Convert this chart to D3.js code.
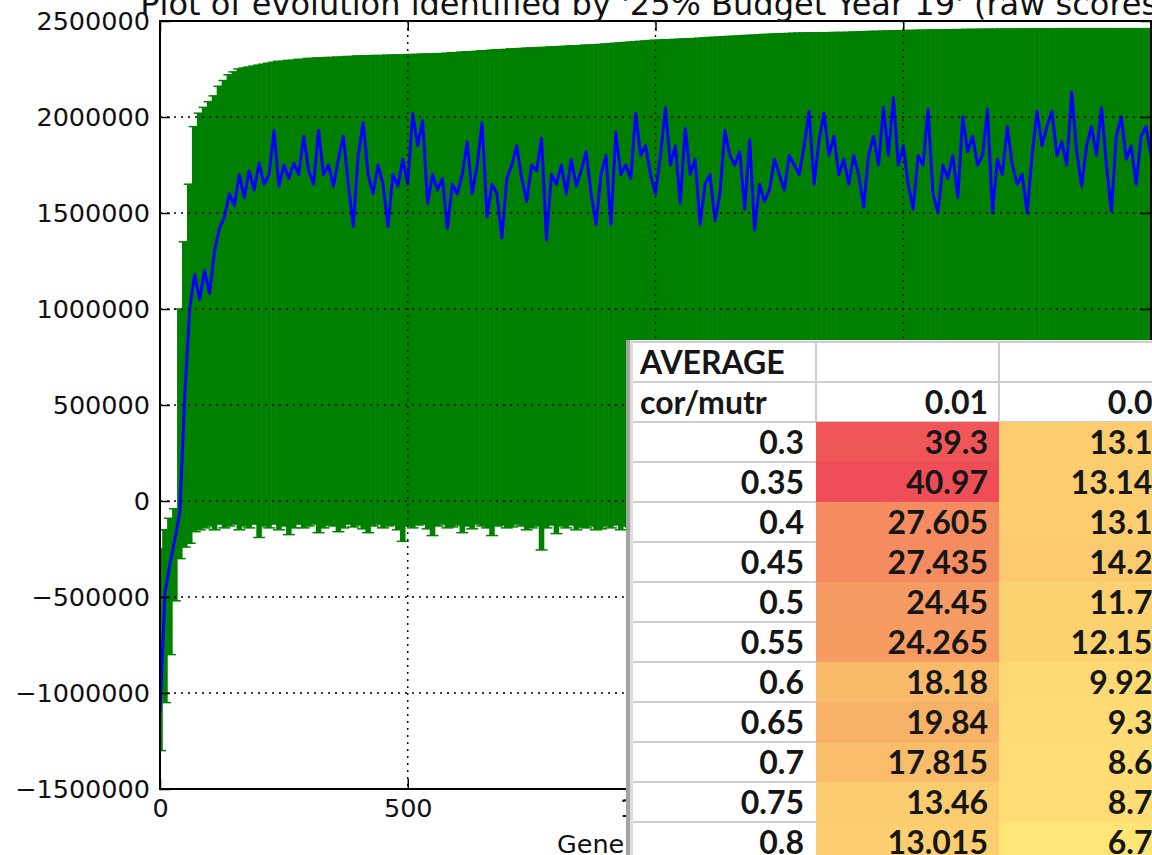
<!DOCTYPE html>
<html>
<head>
<meta charset="utf-8">
<script src="https://cdn.jsdelivr.net/npm/d3@7"></script>
<style>
body { margin: 0; background: #fff; }
svg { display: block; }
</style>
</head>
<body>
<div id="vis"></div>
<script>
// Evolution run, sampled every 10 generations. Scores are in thousands.
const generations = d3.range(0, 2001, 10)

const meanScore = [
    -1100, -480, -330, -200, -60, 550, 1000, 1180, 1050, 1200,
    1080, 1300, 1420, 1480, 1600, 1540, 1700, 1580, 1720, 1620,
    1760, 1650, 1700, 1930, 1640, 1750, 1680, 1760, 1700, 1900,
    1720, 1650, 1930, 1700, 1750, 1640, 1780, 1900, 1650, 1430,
    1800, 1970, 1700, 1600, 1750, 1650, 1430, 1700, 1640, 1780,
    1650, 2020, 1850, 1980, 1550, 1700, 1620, 1680, 1420, 1650,
    1600, 1700, 1870, 1600, 1750, 1970, 1480, 1650, 1600, 1370,
    1680, 1750, 1850, 1680, 1560, 1750, 1720, 1890, 1360, 1700,
    1650, 1750, 1600, 1780, 1640, 1720, 1820, 1600, 1440, 1700,
    1800, 1440, 1920, 1700, 1750, 1680, 2020, 1800, 1850, 1700,
    1600, 1800, 2050, 1750, 1850, 1550, 1940, 1700, 1780, 1440,
    1650, 1700, 1460, 1600, 1930, 1800, 1750, 1820, 1520, 1880,
    1410, 1650, 1560, 1620, 1780, 1700, 1620, 1800, 1750, 1700,
    1850, 2030, 1650, 1880, 2020, 1800, 1900, 1700, 1780, 1650,
    1800, 1700, 1530, 1800, 1900, 1750, 2050, 1800, 2100, 1750,
    1850, 1650, 1520, 1800, 1750, 2040, 1600, 1500, 1750, 1680,
    1800, 1580, 2000, 1820, 1900, 1750, 1800, 2040, 1500, 1780,
    1700, 1950, 1750, 1650, 1700, 1500, 1800, 2030, 1850, 1950,
    2030, 1800, 1870, 1750, 2130, 1820, 1640, 1850, 1950, 1800,
    2050, 1750, 1510, 1900, 2000, 1780, 1850, 1650, 1900, 1950,
    1800
]

const upperScore = [
    -250, -150, -90, -40, 1000, 1350, 1650, 1950, 2020, 2050,
    2080, 2110, 2160, 2190, 2220, 2235, 2250, 2255, 2260, 2265,
    2270, 2275, 2280, 2285, 2290, 2290, 2295, 2295, 2300, 2300,
    2305, 2305, 2308, 2308, 2310, 2310, 2312, 2312, 2315, 2315,
    2318, 2318, 2318, 2320, 2320, 2320, 2322, 2322, 2323, 2323,
    2325, 2325, 2326, 2327, 2328, 2328, 2330, 2330, 2332, 2335,
    2335, 2338, 2340, 2340, 2342, 2345, 2345, 2348, 2350, 2350,
    2352, 2355, 2355, 2357, 2358, 2360, 2360, 2362, 2362, 2365,
    2365, 2367, 2368, 2370, 2370, 2372, 2374, 2375, 2376, 2378,
    2380, 2382, 2384, 2386, 2388, 2390, 2392, 2394, 2396, 2398,
    2400, 2400, 2402, 2402, 2404, 2405, 2406, 2408, 2408, 2410,
    2412, 2414, 2415, 2416, 2418, 2420, 2420, 2422, 2424, 2425,
    2426, 2428, 2430, 2430, 2432, 2433, 2434, 2435, 2436, 2437,
    2437, 2438, 2438, 2438, 2439, 2439, 2440, 2440, 2440, 2441,
    2442, 2443, 2444, 2445, 2446, 2446, 2447, 2448, 2448, 2449,
    2450, 2450, 2451, 2451, 2452, 2452, 2453, 2453, 2453, 2454,
    2455, 2455, 2455, 2456, 2456, 2456, 2457, 2457, 2457, 2457,
    2458, 2458, 2458, 2458, 2458, 2459, 2459, 2459, 2459, 2459,
    2459, 2460, 2460, 2460, 2460, 2460, 2460, 2460, 2460, 2460,
    2460, 2460, 2460, 2460, 2460, 2460, 2460, 2460, 2460, 2460,
    2460
]

const lowerScore = [
    -1300, -1050, -800, -520, -300, -240, -220, -160, -150, -140,
    -130, -150, -120, -140, -130, -120, -150, -130, -140, -120,
    -190, -130, -140, -120, -150, -130, -175, -140, -120, -140,
    -130, -120, -165, -140, -125, -130, -160, -140, -120, -135,
    -125, -145, -165, -130, -120, -140, -130, -125, -150, -210,
    -130, -140, -125, -120, -145, -180, -130, -120, -140, -135,
    -125, -165, -130, -145, -120, -130, -140, -180, -130, -125,
    -140, -135, -120, -130, -150, -140, -130, -255, -140, -125,
    -170, -130, -140, -125, -150, -135, -140, -130, -150, -145,
    -130, -140, -125, -150, -130, -135, -145, -130, -140, -125,
    -135, -125, -150, -130, -140, -120, -145, -130, -160, -125,
    -130, -140, -125, -150, -135, -120, -145, -130, -140, -125,
    -150, -130, -120, -140, -135, -165, -125, -130, -145, -120,
    -140, -130, -125, -150, -135, -140, -120, -130, -155, -125,
    -130, -145, -120, -135, -140, -125, -150, -130, -120, -140,
    -135, -125, -160, -130, -140, -120, -145, -130, -125, -150,
    -130, -140, -125, -135, -120, -150, -130, -140, -125, -135,
    -145, -120, -130, -140, -125, -155, -130, -120, -140, -135,
    -125, -150, -130, -140, -120, -135, -145, -125, -130, -140,
    -120, -150, -130, -135, -125, -140, -130, -145, -120, -135,
    -130
]

const xTicks = [0, 500, 1000, 1500, 2000]
const yTicks = [-1500000, -1000000, -500000, 0, 500000, 1000000, 1500000, 2000000, 2500000]

// Spreadsheet pasted over the plot
const crossoverRates = [0.3, 0.35, 0.4, 0.45, 0.5, 0.55, 0.6, 0.65, 0.7, 0.75, 0.8]
const mutationRates = [0.01, 0.05]
const avgMut001 = [39.3, 40.97, 27.605, 27.435, 24.45, 24.265, 18.18, 19.84, 17.815, 13.46, 13.015]
const avgMut005 = [13.11, 13.145, 13.16, 14.26, 11.75, 12.155, 9.925, 9.39, 8.62, 8.71, 6.71]

const W = 1152, H = 855
const plot = {left: 160, right: 1151, top: 21, bottom: 789}
const font = 'DejaVu Sans'

let svg = d3.select('#vis')
    .append('svg')
    .attr('width', W)
    .attr('height', H)

let x = d3.scaleLinear([0, 2000], [plot.left, plot.right])
let y = d3.scaleLinear([-1500000, 2500000], [plot.bottom, plot.top])

svg.append('clipPath').attr('id', 'plot-clip')
    .append('rect')
    .attr('x', plot.left).attr('y', plot.top)
    .attr('width', plot.right - plot.left).attr('height', plot.bottom - plot.top)

let body = svg.append('g').attr('clip-path', 'url(#plot-clip)')

// error bars (dense enough to look like a filled band)
const bw = x(10) - x(0)
body.append('g')
    .selectAll('rect')
    .data(generations)
    .join('rect')
        .attr('x', d => x(d) - bw / 2 - 0.3)
        .attr('width', bw + 0.6)
        .attr('y', (d, i) => y(upperScore[i] * 1000))
        .attr('height', (d, i) => y(lowerScore[i] * 1000) - y(upperScore[i] * 1000))
        .attr('fill', '#008000')

// caps
body.append('g')
    .selectAll('line')
    .data(generations.flatMap((d, i) => [[d, lowerScore[i]], [d, upperScore[i]]]))
    .join('line')
        .attr('x1', d => x(d[0]) - 6)
        .attr('x2', d => x(d[0]) + 6)
        .attr('y1', d => y(d[1] * 1000))
        .attr('y2', d => y(d[1] * 1000))
        .attr('stroke', '#008000')
        .attr('stroke-width', 1.5)

// mean line
body.append('path')
    .datum(meanScore)
    .attr('fill', 'none')
    .attr('stroke', '#0000ff')
    .attr('stroke-width', 3)
    .attr('stroke-linejoin', 'round')
    .attr('d', d3.line()
        .x((d, i) => x(generations[i]))
        .y(d => y(d * 1000)))

// dotted grid
let grid = svg.append('g')
    .attr('stroke', '#000')
    .attr('stroke-width', 1.4)
    .attr('stroke-dasharray', '2,5')
grid.selectAll('.gx').data(xTicks).join('line').attr('class', 'gx')
    .attr('x1', d => x(d)).attr('x2', d => x(d))
    .attr('y1', plot.top).attr('y2', plot.bottom)
grid.selectAll('.gy').data(yTicks).join('line').attr('class', 'gy')
    .attr('y1', d => y(d)).attr('y2', d => y(d))
    .attr('x1', plot.left).attr('x2', plot.right)

// axes, ticks pointing inwards on all four sides
function styleAxis(g){
    g.select('.domain').remove()
    g.selectAll('line').attr('stroke', '#000').attr('stroke-width', 1.5)
    g.selectAll('text').attr('font-family', font).attr('font-size', 25.5).attr('fill', '#111')
}

svg.append('g')
    .attr('transform', `translate(${plot.left},0)`)
    .call(d3.axisLeft(y).tickValues(yTicks).tickSize(-10).tickPadding(10).tickFormat(d3.format('d')))
    .call(styleAxis)

svg.append('g')
    .attr('transform', `translate(${plot.right},0)`)
    .call(d3.axisRight(y).tickValues(yTicks).tickSize(-10).tickFormat(''))
    .call(styleAxis)

svg.append('g')
    .attr('transform', `translate(0,${plot.bottom})`)
    .call(d3.axisBottom(x).tickValues(xTicks).tickSize(-10).tickPadding(10))
    .call(styleAxis)

svg.append('g')
    .attr('transform', `translate(0,${plot.top})`)
    .call(d3.axisTop(x).tickValues(xTicks).tickSize(-10).tickFormat(''))
    .call(styleAxis)

svg.append('rect')
    .attr('x', plot.left).attr('y', plot.top)
    .attr('width', plot.right - plot.left).attr('height', plot.bottom - plot.top)
    .attr('fill', 'none')
    .attr('stroke', '#000')
    .attr('stroke-width', 2)

svg.append('text')
    .attr('x', (plot.left + plot.right) / 2)
    .attr('y', 15)
    .attr('text-anchor', 'middle')
    .attr('font-family', font)
    .attr('font-size', 32)
    .attr('fill', '#111')
    .text("Plot of evolution identified by '25% Budget Year 19' (raw scores)")

svg.append('text')
    .attr('x', 557)
    .attr('y', 853)
    .attr('font-family', font)
    .attr('font-size', 25.5)
    .attr('fill', '#111')
    .text('Generation')

// ---- spreadsheet overlay ----
const tLeft = 626, tTop = 342, rowH = 40, colW = 183
const colEdges = [633, 633 + colW, 633 + 2 * colW, 633 + 3 * colW]
const tableFont = 'Lato'

let colorScale = d3.scaleLinear()
    .domain([6.71, 18, 27.5, 40.97])
    .range(['#ffe576', '#f9bb6a', '#f48c5f', '#ef4d57'])

let table = svg.append('g')

table.append('rect')
    .attr('x', tLeft).attr('y', tTop - 2)
    .attr('width', W - tLeft).attr('height', H - tTop + 2)
    .attr('fill', '#fff')

let rowY = i => tTop + i * rowH

// horizontal gridlines in the white part
let hLines = d3.range(0, crossoverRates.length + 3)
table.selectAll('.hl').data(hLines).join('line').attr('class', 'hl')
    .attr('x1', colEdges[0])
    .attr('x2', d => d <= 2 ? W : colEdges[1])
    .attr('y1', d => rowY(d)).attr('y2', d => rowY(d))
    .attr('stroke', '#cdcdcd').attr('stroke-width', 2)

table.selectAll('.vl').data([colEdges[1], colEdges[2]]).join('line').attr('class', 'vl')
    .attr('x1', d => d).attr('x2', d => d)
    .attr('y1', rowY(0)).attr('y2', rowY(2))
    .attr('stroke', '#cdcdcd').attr('stroke-width', 2)

// coloured cells
const columns = [avgMut001, avgMut005]
columns.forEach((vals, c) => {
    table.append('g')
        .selectAll('rect')
        .data(vals)
        .join('rect')
            .attr('x', colEdges[c + 1])
            .attr('y', (d, i) => rowY(i + 2))
            .attr('width', colW)
            .attr('height', rowH)
            .attr('fill', d => colorScale(d))
    table.append('g')
        .selectAll('text')
        .data(vals)
        .join('text')
            .attr('x', colEdges[c + 2] - 11)
            .attr('y', (d, i) => rowY(i + 2) + rowH / 2)
            .attr('dy', '0.36em')
            .attr('text-anchor', 'end')
            .text(d => String(d))
})

// header texts
table.append('text').attr('x', 640).attr('y', rowY(0) + rowH / 2).attr('dy', '0.36em').text('AVERAGE')
table.append('text').attr('x', 640).attr('y', rowY(1) + rowH / 2).attr('dy', '0.36em').text('cor/mutr')
table.append('g').selectAll('text').data(mutationRates).join('text')
    .attr('x', (d, i) => colEdges[i + 2] - 11)
    .attr('y', rowY(1) + rowH / 2)
    .attr('dy', '0.36em')
    .attr('text-anchor', 'end')
    .text(d => String(d))

table.append('g').selectAll('text').data(crossoverRates).join('text')
    .attr('x', colEdges[1] - 12)
    .attr('y', (d, i) => rowY(i + 2) + rowH / 2)
    .attr('dy', '0.36em')
    .attr('text-anchor', 'end')
    .text(d => String(d))

table.selectAll('text')
    .attr('font-family', tableFont)
    .attr('font-weight', 700)
    .attr('font-size', 32)
    .attr('fill', '#161616')

// left border of the sheet
table.append('rect').attr('x', tLeft).attr('y', tTop - 2).attr('width', 4).attr('height', H - tTop + 2).attr('fill', '#a3a3a3')
table.append('rect').attr('x', tLeft + 4).attr('y', tTop - 2).attr('width', 3).attr('height', H - tTop + 2).attr('fill', '#dcdcdc')
</script>
</body>
</html>
